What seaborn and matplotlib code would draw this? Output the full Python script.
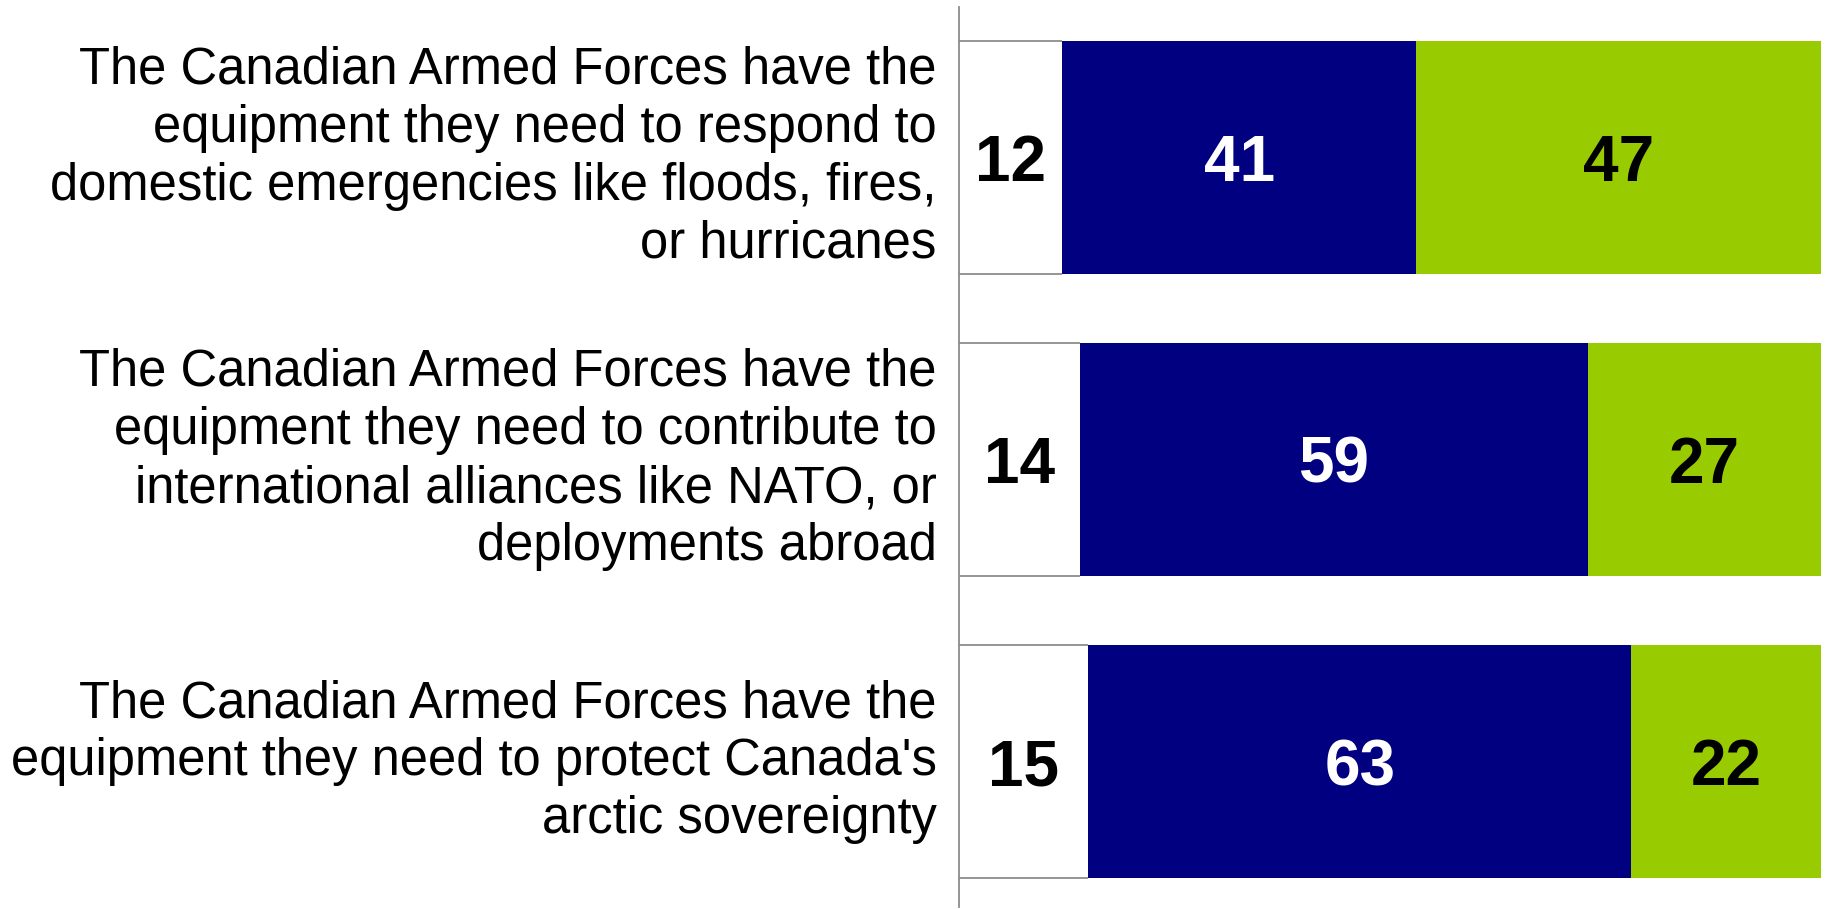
import numpy as np
import pandas as pd
import matplotlib
matplotlib.use("Agg")
import matplotlib.pyplot as plt
import seaborn as sns

# DATA
statements = [
    "The Canadian Armed Forces have the\nequipment they need to respond to\ndomestic emergencies like floods, fires,\nor hurricanes",
    "The Canadian Armed Forces have the\nequipment they need to contribute to\ninternational alliances like NATO, or\ndeployments abroad",
    "The Canadian Armed Forces have the\nequipment they need to protect Canada's\narctic sovereignty",
]
dont_know = [12, 14, 15]
disagree  = [41, 59, 63]
agree     = [47, 27, 22]

WHITE = "#FFFFFF"
NAVY  = "#000080"
GREEN = "#99CC00"
GRAY  = "#8C8C8C"

df = pd.DataFrame({
    "statement": statements,
    "dont_know": dont_know,
    "disagree": disagree,
    "agree": agree,
})
df["cum1"] = df["dont_know"]
df["cum2"] = df["cum1"] + df["disagree"]
df["cum3"] = df["cum2"] + df["agree"]

sns.set_style("white")
plt.rcParams["font.family"] = ["Liberation Sans", "DejaVu Sans"]

fig = plt.figure(figsize=(18.25, 9.09), dpi=100)
ax = fig.add_axes([0.5255, 0.002, 0.4723, 0.990])

# stacked bars drawn back to front as cumulative widths
BAR_W = 0.77
sns.barplot(data=df, x="cum3", y="statement", orient="h", color=GREEN,
            width=BAR_W, linewidth=0, saturation=1, ax=ax)
sns.barplot(data=df, x="cum2", y="statement", orient="h", color=NAVY,
            width=BAR_W, linewidth=0, saturation=1, ax=ax)
n_before = len(ax.patches)
sns.barplot(data=df, x="cum1", y="statement", orient="h", color=WHITE,
            width=BAR_W, linewidth=0, saturation=1, ax=ax)

# gray top/bottom outline on the white segments
for p in ax.patches[n_before:]:
    x0, x1 = p.get_x(), p.get_x() + p.get_width()
    for yy in (p.get_y(), p.get_y() + p.get_height()):
        ax.plot([x0, x1], [yy, yy], color=GRAY, lw=1.3, solid_capstyle="butt", zorder=3)

# value labels
NUM_FS = 46
for i, row in df.iterrows():
    ax.text((0 + row["cum1"]) / 2, i, f"{row['dont_know']}", ha="center", va="center_baseline",
            fontsize=NUM_FS, fontweight="bold", color="black")
    ax.text((row["cum1"] + row["cum2"]) / 2, i, f"{row['disagree']}", ha="center", va="center_baseline",
            fontsize=NUM_FS, fontweight="bold", color="white")
    ax.text((row["cum2"] + row["cum3"]) / 2, i, f"{row['agree']}", ha="center", va="center_baseline",
            fontsize=NUM_FS, fontweight="bold", color="black")

ax.set_xlim(0, 100)
ax.set_ylim(2.481, -0.496)
ax.set_xlabel("")
ax.set_ylabel("")
ax.set_xticks([])
for s in ["top", "right", "bottom"]:
    ax.spines[s].set_visible(False)
ax.spines["left"].set_color(GRAY)
ax.spines["left"].set_linewidth(1.3)
ax.tick_params(axis="y", length=0, pad=16, labelsize=36.5, labelcolor="black")
for lbl in ax.get_yticklabels():
    lbl.set_linespacing(1.24)
    lbl.set_verticalalignment("center")

fig.savefig("out.png", dpi=100)
